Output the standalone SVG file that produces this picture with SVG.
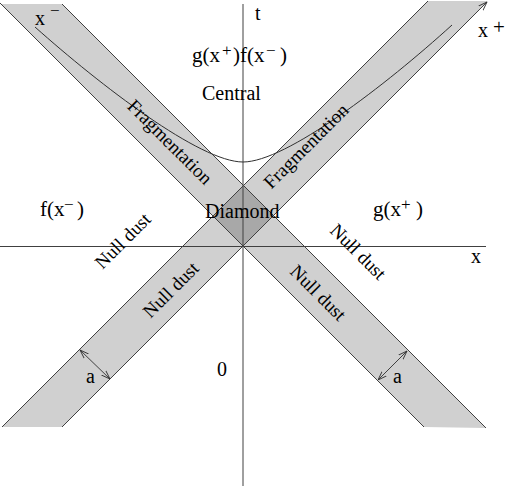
<svg xmlns="http://www.w3.org/2000/svg" width="507" height="490" viewBox="0 0 507 490">
<defs>
<style>
.band{fill:#d0d0d0;stroke:none}
.diam{fill:#a8a8a8;stroke:none}
.edge{stroke:#404040;stroke-width:1;fill:none}
.axis{stroke:#404040;stroke-width:1;fill:none}
.curve{stroke:#303030;stroke-width:1;fill:none}
text{font-family:"Liberation Serif","Times New Roman",serif;fill:#000}
.l20{font-size:20px}
.l21{font-size:21px}
.rot{font-size:19px;text-anchor:middle}
</style>
<marker id="ah" viewBox="0 0 10 10" refX="10" refY="5" markerWidth="9" markerHeight="9" orient="auto-start-reverse" markerUnits="userSpaceOnUse">
<path d="M0,1.5 L10,5 L0,8.5" fill="none" stroke="#303030" stroke-width="1"/>
</marker>
</defs>
<rect width="507" height="490" fill="#fff"/>
<g id="bands">
<polygon class="band" points="1,4 62,4 486,428 424,427"/>
<polygon class="band" points="428,1 488,1 62,427 2,427"/>
<polygon class="diam" points="243.5,185.5 273.5,215.5 243,246 213,216"/>
</g>
<g id="connectors">
<line class="axis" x1="243" y1="4" x2="243" y2="486"/>
<line class="axis" x1="0" y1="246.5" x2="486" y2="246.5"/>
<line class="edge" x1="0" y1="3" x2="424" y2="427"/>
<line class="edge" x1="62" y1="4" x2="486" y2="428"/>
<line class="edge" x1="428" y1="1" x2="2" y2="427"/>
<line class="edge" x1="62" y1="427" x2="487" y2="2" marker-end="url(#ah)"/>
<path class="curve" d="M35,27 C100,85 200,162 243,162 C286,162 386,85 452,25"/>
<line class="edge" x1="80" y1="350" x2="110" y2="379" marker-start="url(#ah)" marker-end="url(#ah)"/>
<line class="edge" x1="407" y1="351" x2="378" y2="380" marker-start="url(#ah)" marker-end="url(#ah)"/>
</g>
<g id="axis-labels">
<text class="l20" x="255" y="20">t</text>
<text class="l20" x="471" y="263">x</text>
<text class="l20" x="35" y="25">x</text>
<text x="50" y="16" font-size="17">−</text>
<text class="l20" x="478" y="37">x</text>
<text class="l21" x="493" y="34">+</text>
</g>
<g id="central">
<text class="l21" y="62"><tspan x="192">g(x</tspan><tspan x="222" y="56" font-size="17">+</tspan><tspan x="233" y="62">)f(x</tspan><tspan x="266" y="56" font-size="17">−</tspan><tspan x="280" y="62">)</tspan></text>
<text class="l20" x="202" y="100">Central</text>
</g>
<g id="diamond">
<text class="l20" x="205" y="218">Diamond</text>
</g>
<g id="left-region">
<text class="l21" y="216"><tspan x="40">f(x</tspan><tspan x="64" y="210" font-size="17">−</tspan><tspan x="77" y="216">)</tspan></text>
</g>
<g id="right-region">
<text class="l21" y="216"><tspan x="373">g(x</tspan><tspan x="401" y="210" font-size="17">+</tspan><tspan x="416" y="216">)</tspan></text>
</g>
<g id="fragmentation-left">
<text class="rot" transform="translate(169,143) rotate(45)" y="5">Fragmentation</text>
</g>
<g id="fragmentation-right">
<text class="rot" transform="translate(307,147) rotate(-45)" y="5">Fragmentation</text>
</g>
<g id="nulldust-ul">
<text class="rot" transform="translate(123,241) rotate(-45)" y="6">Null dust</text>
</g>
<g id="nulldust-ur">
<text class="rot" transform="translate(358,252) rotate(45)" y="6">Null dust</text>
</g>
<g id="nulldust-ll">
<text class="rot" transform="translate(171,290) rotate(-45)" y="6">Null dust</text>
</g>
<g id="nulldust-lr">
<text class="rot" transform="translate(318,293) rotate(45)" y="6">Null dust</text>
</g>
<g id="past">
<text class="l20" x="217" y="376">0</text>
</g>
<g id="width-labels">
<text class="l20" x="86" y="383">a</text>
<text class="l20" x="393" y="383">a</text>
</g>
</svg>
